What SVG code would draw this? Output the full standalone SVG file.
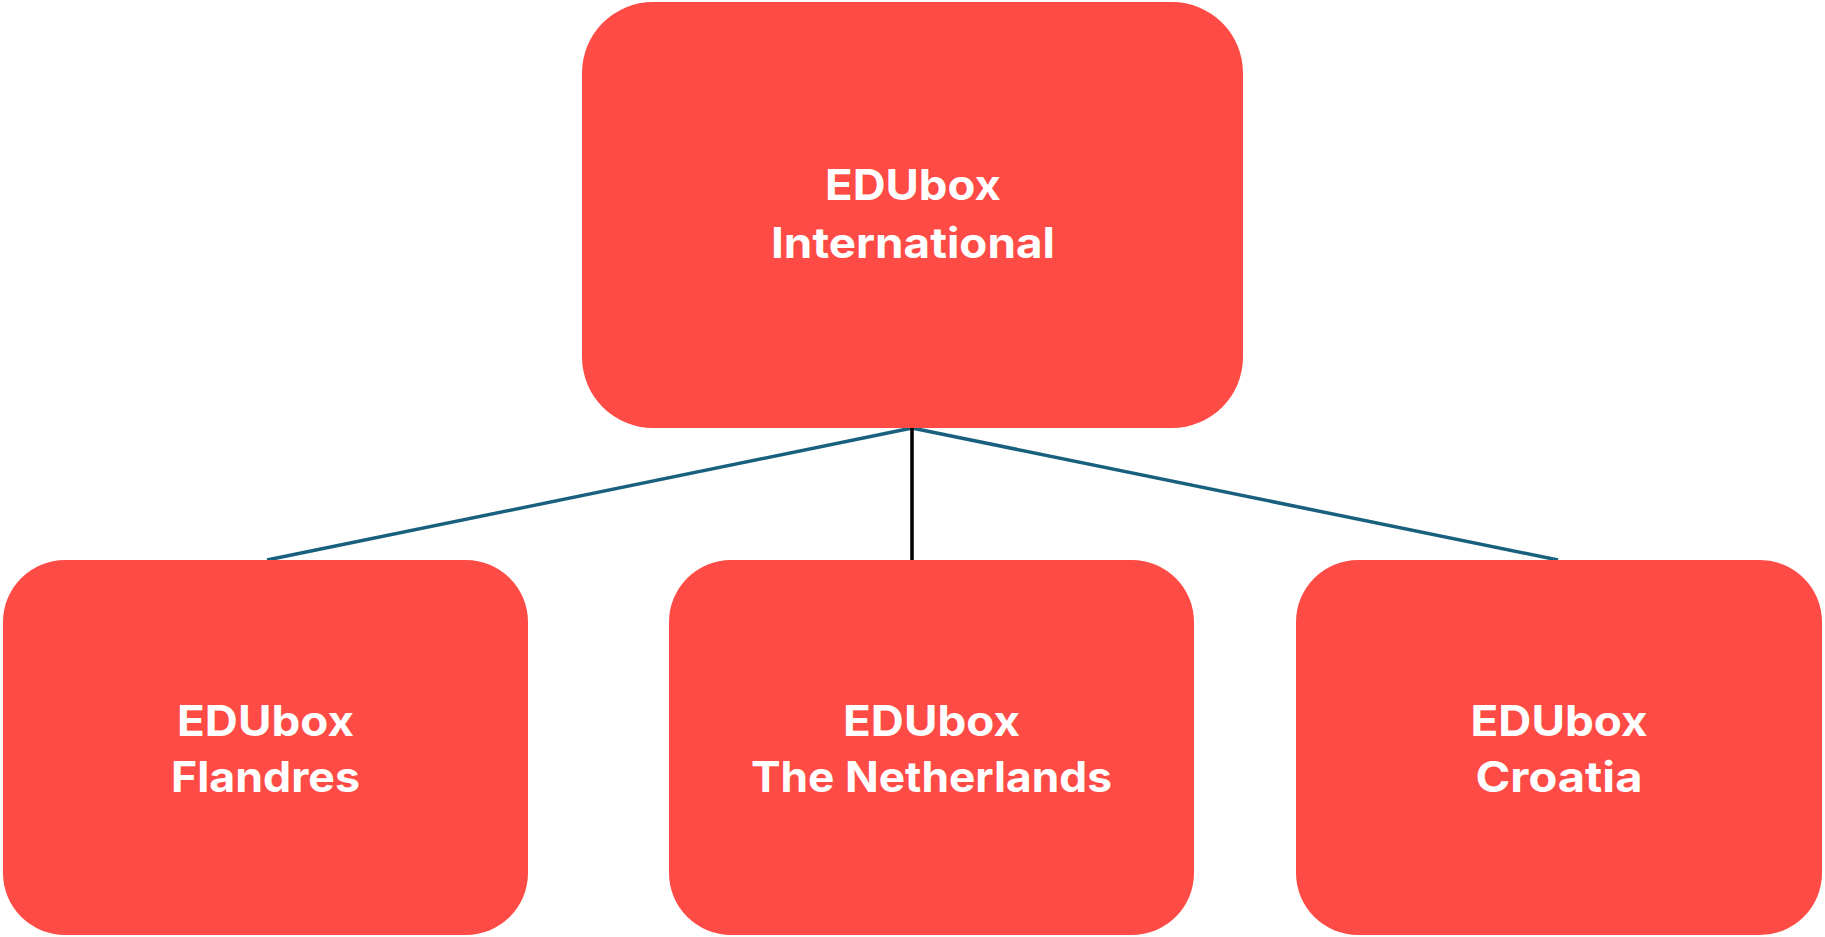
<svg xmlns="http://www.w3.org/2000/svg" width="1825" height="937" viewBox="0 0 1825 937">
  <style>
    .box { fill: #FF4B45; }
    .lbl { fill: #FFFFFF; font-family: Inter, "Liberation Sans", sans-serif; font-weight: 700; font-size: 42px; text-anchor: middle; }
    .blue { stroke: #19607F; stroke-width: 3.5; fill: none; }
    .black { stroke: #000000; stroke-width: 3.5; fill: none; }
  </style>
  <rect width="1825" height="937" fill="#FFFFFF"/>
  <g id="connectors">
    <line class="blue" x1="912" y1="428" x2="267" y2="560"/>
    <line class="blue" x1="912" y1="428" x2="1558" y2="560"/>
    <line class="black" x1="912" y1="428" x2="912" y2="560"/>
  </g>
  <g id="node-international">
    <rect class="box" x="582" y="2" width="661" height="426" rx="71" ry="71"/>
    <text class="lbl" x="913" y="200" textLength="176" lengthAdjust="spacingAndGlyphs">EDUbox</text>
    <text class="lbl" x="913" y="258" textLength="284" lengthAdjust="spacingAndGlyphs">International</text>
  </g>
  <g id="node-flandres">
    <rect class="box" x="3" y="560" width="525" height="375" rx="62" ry="62"/>
    <text class="lbl" x="265.5" y="736" textLength="177" lengthAdjust="spacingAndGlyphs">EDUbox</text>
    <text class="lbl" x="265.5" y="792" textLength="189" lengthAdjust="spacingAndGlyphs">Flandres</text>
  </g>
  <g id="node-netherlands">
    <rect class="box" x="669" y="560" width="525" height="375" rx="62" ry="62"/>
    <text class="lbl" x="931.5" y="736" textLength="177" lengthAdjust="spacingAndGlyphs">EDUbox</text>
    <text class="lbl" x="931.5" y="792" textLength="361" lengthAdjust="spacingAndGlyphs">The Netherlands</text>
  </g>
  <g id="node-croatia">
    <rect class="box" x="1296" y="560" width="526" height="375" rx="62" ry="62"/>
    <text class="lbl" x="1559" y="736" textLength="177" lengthAdjust="spacingAndGlyphs">EDUbox</text>
    <text class="lbl" x="1559" y="792" textLength="167" lengthAdjust="spacingAndGlyphs">Croatia</text>
  </g>
</svg>
